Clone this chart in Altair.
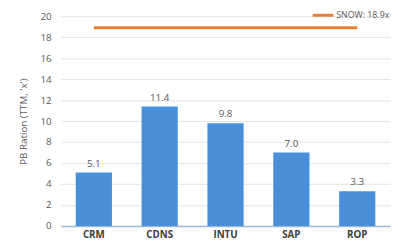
import altair as alt
import pandas as pd

tickers = ["CRM", "CDNS", "INTU", "SAP", "ROP"]
pb_values = [5.1, 11.4, 9.8, 7.0, 3.3]
snow_value = 18.9
snow_label = "SNOW: 18.9x"
y_ticks = [0, 2, 4, 6, 8, 10, 12, 14, 16, 18, 20]

df = pd.DataFrame({"ticker": tickers, "pb": pb_values})
df["label"] = [f"{v:.1f}" for v in pb_values]
snow_df = pd.DataFrame({"ticker": [tickers[0]], "end": [tickers[-1]], "pb": [snow_value]})
leg_df = pd.DataFrame({"label": [snow_label]})

FONT = "Open Sans"
x_axis = alt.Axis(labelAngle=0, labelFontWeight="bold", labelColor="#404040",
                  labelFontSize=10, labelFont=FONT, ticks=False, grid=False,
                  domain=True, domainColor="#9db8d6", domainWidth=1.5, labelPadding=4)
y_axis = alt.Axis(values=y_ticks, grid=True, gridColor="#e3e3e3",
                  domain=False, domainColor="transparent", domainOpacity=0,
                  ticks=False, labelColor="#595959", labelFontSize=10,
                  labelFont=FONT, labelOverlap=False,
                  titleFont=FONT, titleFontSize=10, titleFontWeight="normal",
                  titleColor="#595959", labelPadding=10, titlePadding=12)
x_scale = alt.Scale(domain=tickers, paddingInner=0.45, paddingOuter=0.225)
y_scale = alt.Scale(domain=[0, 20], nice=False)


def xe():
    return alt.X("ticker:N", title=None, scale=x_scale, axis=x_axis)


def ye():
    return alt.Y("pb:Q", title="PB Ration (TTM, 'x')", scale=y_scale, axis=y_axis)


bars = alt.Chart(df).mark_bar(color="#4a90d9").encode(x=xe(), y=ye())
labels = alt.Chart(df).mark_text(dy=-9, fontSize=10, color="#595959", font=FONT).encode(
    x=xe(), y=ye(), text="label:N")
snow = alt.Chart(snow_df).mark_rule(color="#ed7d31", strokeWidth=3).encode(
    x=xe(), x2="end:N", y=ye())
leg_line = alt.Chart(leg_df).mark_rule(color="#ed7d31", strokeWidth=3).encode(
    x=alt.value(257), x2=alt.value(278), y=alt.value(-1))
leg_text = alt.Chart(leg_df).mark_text(align="left", baseline="middle", fontSize=9,
                                       color="#595959", font=FONT).encode(
    x=alt.value(281), y=alt.value(-1), text="label:N")

chart = alt.layer(bars, labels, snow, leg_line, leg_text).properties(
    width=336, height=214,
    background="white",
    autosize=alt.AutoSizeParams(type="none"),
    padding={"left": 54, "top": 6, "right": 7, "bottom": 14},
).configure_view(stroke="transparent", strokeWidth=0).configure_axisY(
    domain=False, ticks=False, domainColor="transparent"
).configure_axisX(grid=False)

chart.save("out.html", embed_options={"renderer": "svg", "actions": False})
